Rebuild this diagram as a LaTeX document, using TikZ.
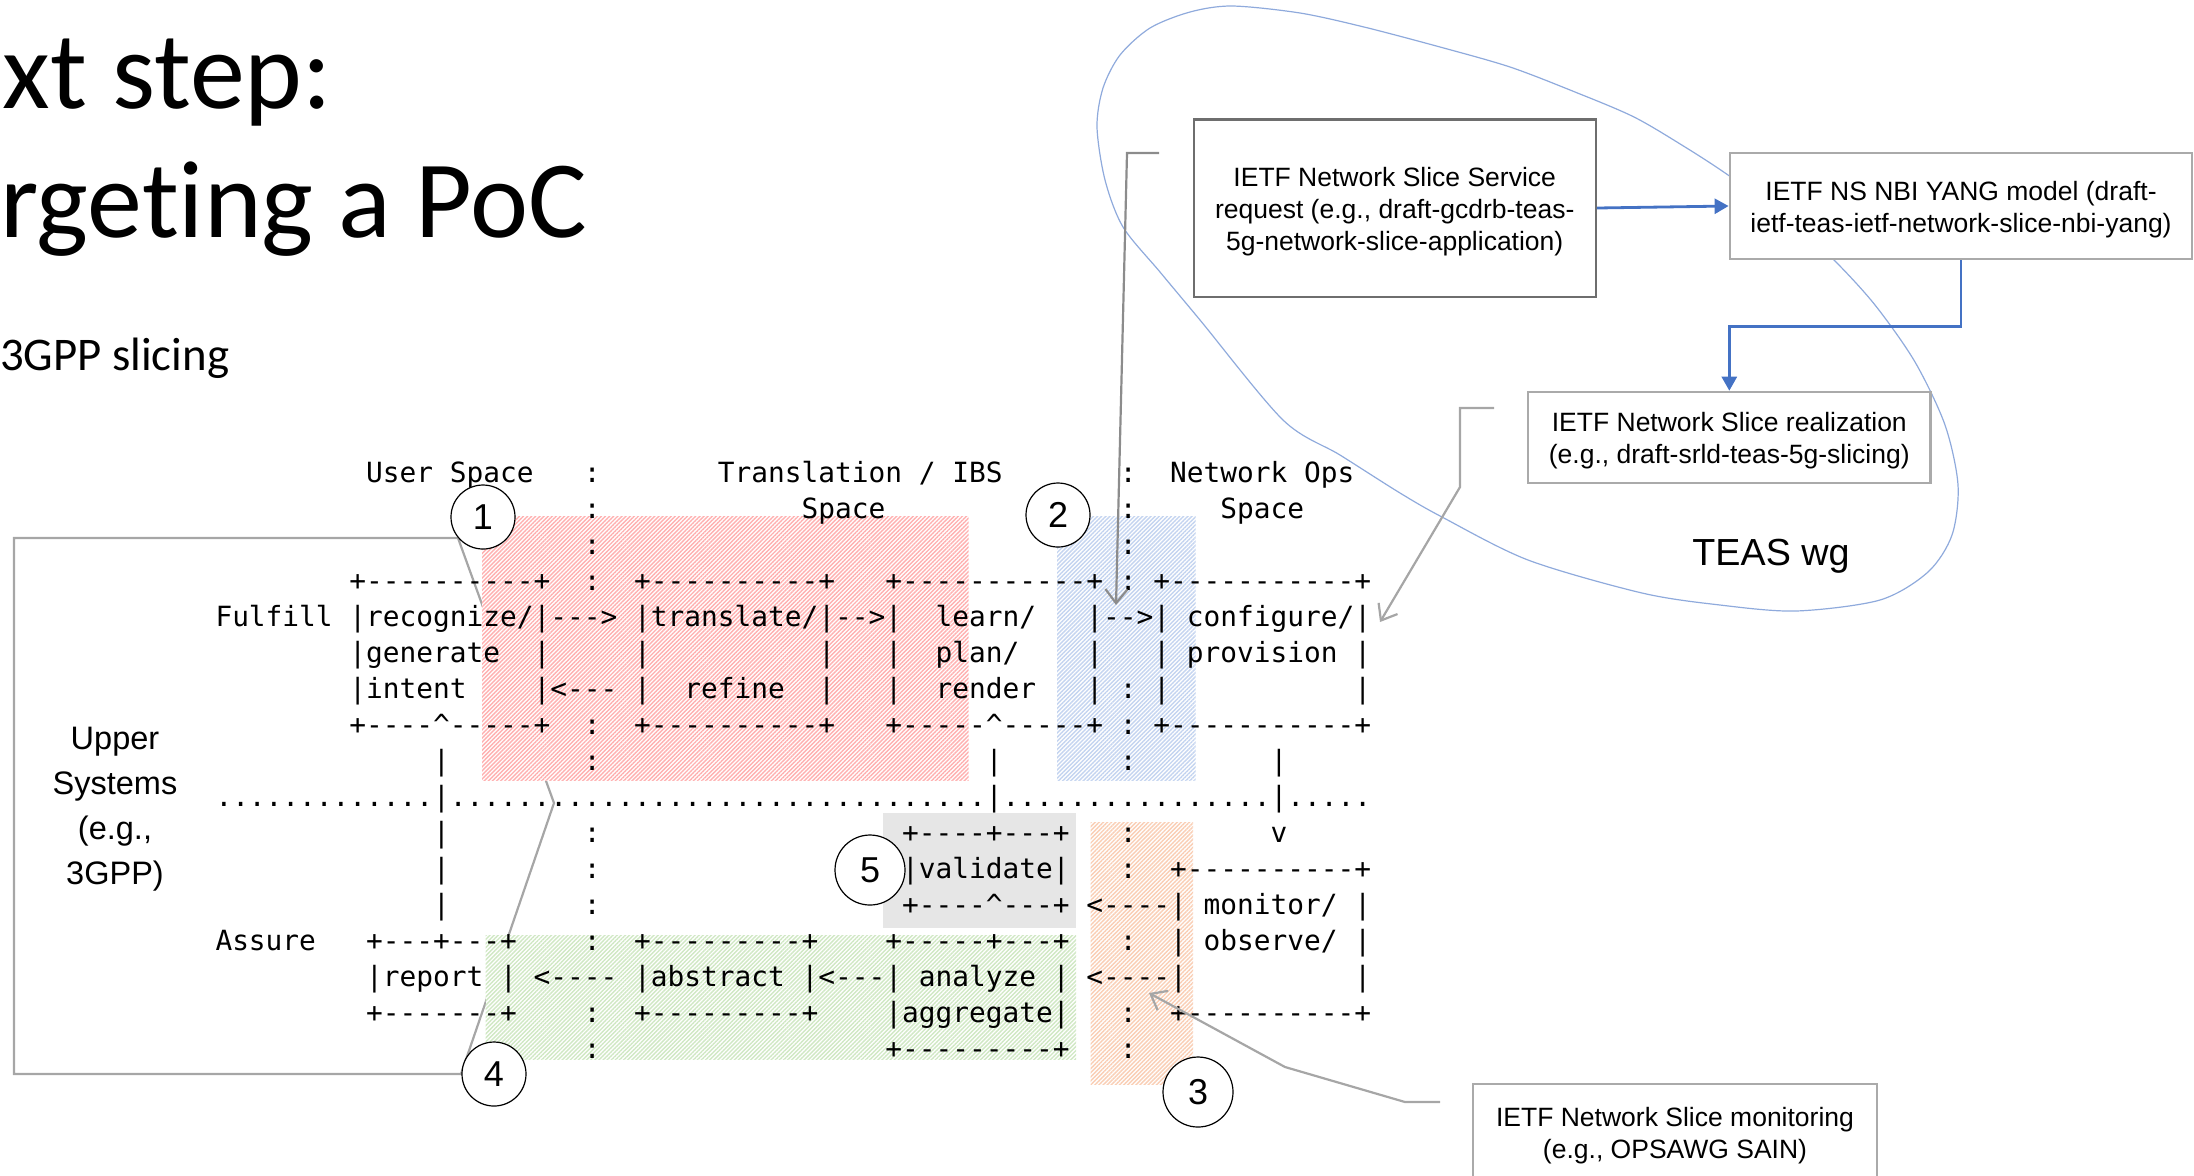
\documentclass[tikz,border=0pt]{standalone}
\usepackage{fontspec}
\setmainfont{Liberation Sans}
\setmonofont{DejaVu Sans Mono}
\newfontfamily\titlefont{Carlito}[Ligatures=NoCommon]
\usetikzlibrary{patterns.meta,arrows.meta}
\newlength\asciicw
\AtBeginDocument{\settowidth{\asciicw}{\fontsize{13.91pt}{16pt}\selectfont\ttfamily 0}}
\newcommand\SP[1]{\hspace*{#1\asciicw}}
\newcommand\topstrut{\rule{0pt}{13pt}}
\ExplSyntaxOn
\NewDocumentCommand\DOTS{m}{\prg_replicate:nn{#1}{.}}
\NewDocumentCommand\DASH{m}{\prg_replicate:nn{#1}{-}}
\ExplSyntaxOff
\definecolor{hred}{RGB}{255,176,176}
\definecolor{hblue}{RGB}{196,212,240}
\definecolor{hgreen}{RGB}{208,232,196}
\definecolor{horange}{RGB}{250,206,180}
\definecolor{vgray}{RGB}{230,230,230}
\definecolor{callgray}{RGB}{166,166,166}
\definecolor{callgraydark}{RGB}{140,140,140}
\definecolor{boxdark}{RGB}{110,110,110}
\definecolor{boxlight}{RGB}{170,170,170}
\definecolor{nsblue}{RGB}{68,114,196}
\definecolor{teasblue}{RGB}{143,170,220}
\begin{document}
\begin{tikzpicture}[x=0.5pt,y=-0.5pt,
  asc/.style={anchor=base west, inner sep=0pt, outer sep=0pt, font=\fontsize{13.91pt}{16pt}\selectfont\ttfamily},
  num/.style={circle, draw=black, line width=0.6pt, fill=white, inner sep=0pt, font=\fontsize{18pt}{20pt}\selectfont},
  slidebox/.style={rectangle, fill=white, align=center, inner sep=0pt, font=\fontsize{13.25pt}{16pt}\selectfont},
  calloutline/.style={draw=callgray, line width=1.1pt},
  callarrow/.style={calloutline, -{Straight Barb[length=7pt,width=11pt]}},
  bluearrow/.style={draw=nsblue, line width=1.4pt, -{Triangle[length=7pt,width=7.5pt]}},
  hatch/.style={fill=white, postaction={pattern={Lines[angle=45,distance=1.45pt,line width=0.7pt]}, pattern color=#1}},
  titletext/.style={anchor=base west, inner sep=0pt, outer sep=0pt}
]
\useasboundingbox (0,0) rectangle (2194,1175);

% Upper systems callout outline
\coordinate (u1) at (14,538);
\coordinate (u2) at (458,538);
\coordinate (u3) at (554,803);
\coordinate (u4) at (461,1074);
\coordinate (u5) at (14,1074);
\draw[calloutline] (u1) -- (u2) -- (u3) -- (u4) -- (u5) -- cycle;

% TEAS wg freeform
\draw[teasblue, line width=0.6pt] plot[smooth cycle, tension=0.5] coordinates {
 (1232,6) (1300,13) (1364,27) (1440,47) (1510,67) (1575,92) (1634,117) (1685,147) (1728,175)
 (1790,220) (1834,260) (1875,305) (1915,362) (1945,425) (1958,485) (1952,535) (1928,572)
 (1880,600) (1796,611) (1720,605) (1642,593) (1528,560) (1442,517) (1400,493) (1340,455)
 (1283,420) (1200,320) (1160,272) (1123,227) (1105,180) (1097,127) (1103,88) (1120,55)
 (1150,28) (1190,12)};

% highlight areas
\path[hatch=hred] (482,516) rectangle (968.5,780.5);
\path[hatch=hblue] (1057,516) rectangle (1195.5,780.5);
\path[fill=vgray] (883,813) rectangle (1076,927.5);
\path[hatch=horange] (1090.5,822) rectangle (1193,1084);
\path[hatch=hgreen] (485.5,935) rectangle (1076,1059);

% ASCII art
\node[asc] (l1) at (215.5,482) {\SP{9}User Space\SP{3}:\SP{7}Translation / IBS\SP{7}:\SP{2}Network Ops};
\node[asc] (l2) at (215.5,518) {\SP{22}:\SP{12}Space\SP{14}:\SP{5}Space};
\node[asc] (l3) at (215.5,554.1) {\SP{22}:\SP{31}:};
\node[asc] (l4) at (215.5,590.1) {\SP{8}+\DASH{10}+\SP{2}:\SP{2}+\DASH{10}+\SP{3}+\DASH{11}+ : +\DASH{11}+};
\node[asc] (l5) at (215.5,626.1) {Fulfill |recognize/|\DASH{3}> |translate/|\DASH{2}>|\SP{2}learn/\SP{3}|\DASH{2}>| configure/|};
\node[asc] (l6) at (215.5,662.2) {\SP{8}|generate\SP{2}|\SP{5}|\SP{10}|\SP{3}|\SP{2}plan/\SP{4}|\SP{3}| provision |};
\node[asc] (l7) at (215.5,698.2) {\SP{8}|intent\SP{4}|<\DASH{3} |\SP{2}refine\SP{2}|\SP{3}|\SP{2}render\SP{3}| : |\SP{11}|};
\node[asc] (l8) at (215.5,734.2) {\SP{8}+\DASH{4}\textasciicircum\DASH{5}+\SP{2}:\SP{2}+\DASH{10}+\SP{3}+\DASH{5}\textasciicircum\DASH{5}+ : +\DASH{11}+};
\node[asc] (l9) at (215.5,770.2) {\SP{13}|\SP{8}:\SP{23}|\SP{7}:\SP{8}|};
\node[asc] (l10) at (215.5,806.3) {\DOTS{13}|\DOTS{32}|\DOTS{16}|\DOTS{5}};
\node[asc] (l11) at (215.5,842.3) {\SP{13}|\SP{8}:\SP{18}+\DASH{4}+\DASH{3}+\SP{3}:\SP{8}v};
\node[asc] (l12) at (215.5,878.3) {\SP{13}|\SP{8}:\SP{18}|validate|\SP{3}:\SP{2}+\DASH{10}+};
\node[asc] (l13) at (215.5,914.4) {\SP{13}|\SP{8}:\SP{18}+\DASH{4}\textasciicircum\DASH{3}+ <\DASH{4}| monitor/ |};
\node[asc] (l14) at (215.5,950.4) {Assure\SP{3}+\DASH{3}+\DASH{3}+\SP{4}:\SP{2}+\DASH{9}+\SP{4}+\DASH{5}+\DASH{3}+\SP{3}:\SP{2}| observe/ |};
\node[asc] (l15) at (215.5,986.4) {\SP{9}|report | <\DASH{4} |abstract |<\DASH{3}| analyze | <\DASH{4}|\SP{10}|};
\node[asc] (l16) at (215.5,1022.5) {\SP{9}+\DASH{7}+\SP{4}:\SP{2}+\DASH{9}+\SP{4}|aggregate|\SP{3}:\SP{2}+\DASH{10}+};
\node[asc] (l17) at (215.5,1058.5) {\SP{22}:\SP{17}+\DASH{9}+\SP{3}:};

% numbered circles
\node[num, minimum size=32pt] (c1) at (483,517) {1};
\node[num, minimum size=32pt] (c2) at (1058,515) {2};
\node[num, minimum size=35pt] (c3) at (1198,1092) {3};
\node[num, minimum size=32pt] (c4) at (494,1074) {4};
\node[num, minimum size=35pt] (c5) at (870,870) {5};

% Upper systems label
\node[align=center, inner sep=0pt, font=\fontsize{16.25pt}{22.4pt}\selectfont] (us) at (115,809) {Upper\\Systems\\(e.g.,\\3GPP)};

% gray callout arrows
\coordinate (g1a) at (1159,153);
\coordinate (g1b) at (1127,153);
\coordinate (g1c) at (1116,605);
\draw[callarrow, draw=callgraydark] (g1a) -- (g1b) -- (g1c);
\coordinate (g2a) at (1494,408);
\coordinate (g2b) at (1460,408);
\coordinate (g2c) at (1460,487);
\coordinate (g2d) at (1380,622);
\draw[callarrow] (g2a) -- (g2b) -- (g2c) -- (g2d);
\coordinate (g3a) at (1440,1102);
\coordinate (g3b) at (1405,1102);
\coordinate (g3c) at (1285,1067);
\coordinate (g3d) at (1149,993);
\draw[callarrow] (g3a) -- (g3b) -- (g3c) -- (g3d);

% boxes
\node[slidebox, draw=boxdark, line width=1.2pt, minimum width=201pt, minimum height=88.7pt] (bA) at (1394.7,208) {\topstrut IETF Network Slice Service\\request (e.g., draft-gcdrb-teas-\\5g-network-slice-application)};
\node[slidebox, draw=boxlight, line width=1.4pt, minimum width=231pt, minimum height=53pt] (bB) at (1961,206) {\topstrut IETF NS NBI YANG model (draft-\\ietf-teas-ietf-network-slice-nbi-yang)};
\node[slidebox, draw=boxlight, line width=1.3pt, minimum width=201.3pt, minimum height=45.5pt] (bC) at (1729.3,437.5) {\topstrut IETF Network Slice realization\\(e.g., draft-srld-teas-5g-slicing)};
\node[slidebox, draw=boxlight, line width=1pt, minimum width=202pt, minimum height=48pt] (bD) at (1675,1132) {\topstrut IETF Network Slice monitoring\\(e.g., OPSAWG SAIN)};

% blue arrows
\draw[bluearrow] (bA.east) -- (bB.west);
\draw[bluearrow] (bB.south) -- ++(0,66) -| (bC.north);

% TEAS label
\node[anchor=base, inner sep=0pt, font=\fontsize{18.85pt}{22pt}\selectfont] (teas) at (1771,565) {TEAS wg};

% title texts
\node[titletext, font=\titlefont\fontsize{55pt}{60pt}\selectfont] (t1) at (3,108) {xt step:};
\node[titletext, font=\titlefont\fontsize{55pt}{60pt}\selectfont] (t2) at (0,237) {rgeting a PoC};
\node[titletext, font=\titlefont\fontsize{23.4pt}{26pt}\selectfont] (t3) at (0,370) {3GPP slicing};
\end{tikzpicture}
\end{document}
